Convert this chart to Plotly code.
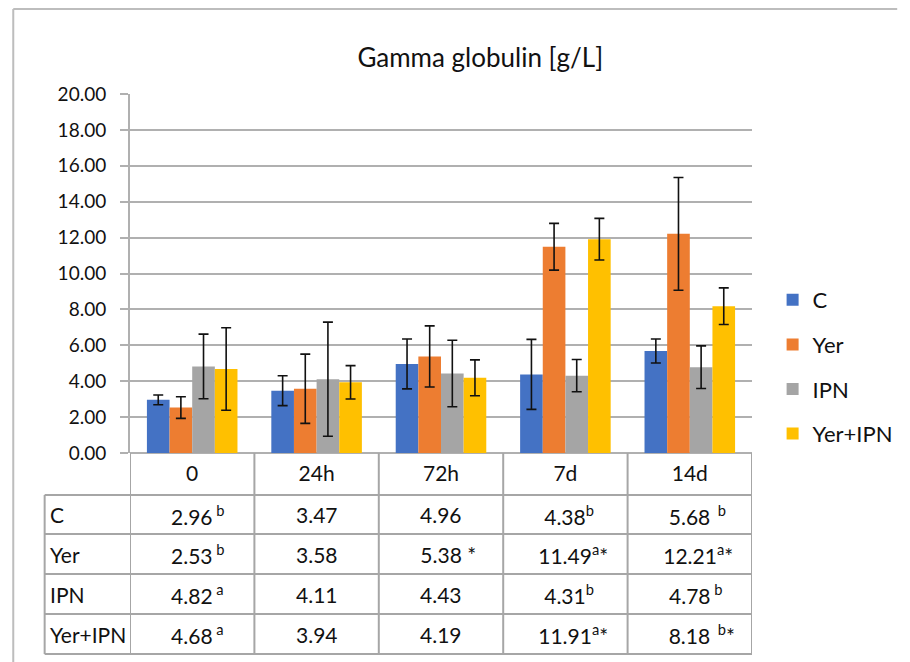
import plotly.graph_objects as go

# ---- data -------------------------------------------------------------
time_points = ["0", "24h", "72h", "7d", "14d"]
series_names = ["C", "Yer", "IPN", "Yer+IPN"]

c_vals = [2.96, 3.47, 4.96, 4.38, 5.68]
yer_vals = [2.53, 3.58, 5.38, 11.49, 12.21]
ipn_vals = [4.82, 4.11, 4.43, 4.31, 4.78]
yeripn_vals = [4.68, 3.94, 4.19, 11.91, 8.18]

c_err = [0.27, 0.83, 1.39, 1.95, 0.67]
yer_err = [0.60, 1.93, 1.70, 1.30, 3.14]
ipn_err = [1.80, 3.18, 1.85, 0.90, 1.19]
yeripn_err = [2.30, 0.93, 1.00, 1.16, 1.02]

# significance letters (between groups) and stars (vs. time 0) in the table
c_letters = ["\u00a0b", "", "", "b", "\u00a0\u00a0b"]
yer_letters = ["\u00a0b", "", "", "a", "a"]
ipn_letters = ["\u00a0a", "", "", "b", "\u00a0b"]
yeripn_letters = ["\u00a0a", "", "", "a", "\u00a0\u00a0b"]

c_star = [False, False, False, False, False]
yer_star = [False, False, True, True, True]
ipn_star = [False, False, False, False, False]
yeripn_star = [False, False, False, True, True]

y_ticks = [0, 2, 4, 6, 8, 10, 12, 14, 16, 18, 20]

colors = ["#4472C4", "#ED7D31", "#A5A5A5", "#FFC000"]

values = [c_vals, yer_vals, ipn_vals, yeripn_vals]
errors = [c_err, yer_err, ipn_err, yeripn_err]
letters = [c_letters, yer_letters, ipn_letters, yeripn_letters]
stars = [c_star, yer_star, ipn_star, yeripn_star]

# ---- geometry ---------------------------------------------------------
W, H = 910, 662
PL, PR, PT, PB = 130, 764, 94, 453  # plot area in pixels

FONT = "Lato, 'Open Sans', sans-serif"
TXT = "#111111"
GRID = "#b0b0b0"
TABLE = "#a6a6a6"


def fx(px):
    return (px - PL) / (PR - PL)


def fy(py):
    return (PB - py) / (PB - PT)


def cell_text(v, letter, star):
    """Value with its marks; the marks are mirrored invisibly on the left
    so the number itself stays centred in the cell."""
    marks = ""
    if letter:
        marks += f"<sup>{letter}</sup>"
    if star:
        if not letter:
            marks += "\u00a0"
        marks += "*"
    if not marks:
        return f"{v:.2f}"
    pad = f"<span style='color:rgba(0,0,0,0)'>{marks}</span>"
    return f"{pad}{v:.2f}{marks}"


fig = go.Figure()
for name, vals, errs, col in zip(series_names, values, errors, colors):
    fig.add_trace(go.Bar(
        name=name, x=time_points, y=vals, marker=dict(color=col, line=dict(width=0)),
        error_y=dict(type="data", array=errs, visible=True, color="#111111",
                     thickness=1.6, width=5),
        legendgroup=name,
    ))

shapes = []
# vertical separators between time points, running down through the table
for i in range(len(time_points) + 1):
    shapes.append(dict(type="line", xref="x", yref="paper",
                       x0=i - 0.5, x1=i - 0.5, y0=0, y1=fy(654),
                       line=dict(color=TABLE, width=2)))
# table row lines
row_lines = [495, 534, 574, 614, 654]
for r in row_lines:
    shapes.append(dict(type="line", xref="paper", yref="paper",
                       x0=fx(43), x1=1, y0=fy(r), y1=fy(r),
                       line=dict(color=TABLE, width=2)))
shapes.append(dict(type="line", xref="paper", yref="paper",
                   x0=fx(43), x1=fx(43), y0=fy(495), y1=fy(654),
                   line=dict(color=TABLE, width=2)))
# outer chart frame (top and left edges)
shapes.append(dict(type="line", xref="paper", yref="paper",
                   x0=fx(11), x1=fx(912), y0=fy(9), y1=fy(9),
                   line=dict(color="#bdbdbd", width=2)))
shapes.append(dict(type="line", xref="paper", yref="paper",
                   x0=fx(11), x1=fx(11), y0=fy(9), y1=fy(664),
                   line=dict(color="#bdbdbd", width=2)))

annotations = []
row_centers = [514.5, 554, 594, 634]
for name, vals, lt, st, yc in zip(series_names, values, letters, stars, row_centers):
    annotations.append(dict(xref="paper", yref="paper", x=fx(46), y=fy(yc),
                            xanchor="left", yanchor="middle", showarrow=False,
                            text=name, font=dict(family=FONT, size=21, color=TXT)))
    for i, (v, l, s) in enumerate(zip(vals, lt, st)):
        annotations.append(dict(xref="x", yref="paper", x=i, y=fy(yc),
                                xanchor="center", yanchor="middle", showarrow=False,
                                text=cell_text(v, l, s),
                                font=dict(family=FONT, size=21, color=TXT)))

fig.update_layout(
    width=W, height=H,
    margin=dict(l=PL, r=W - PR, t=PT, b=H - PB),
    paper_bgcolor="white", plot_bgcolor="white",
    barmode="group", bargap=0.272, bargroupgap=0,
    title=dict(text="Gamma globulin [g/L]", xref="paper", x=fx(487), xanchor="center",
               yref="container", y=1 - 58 / H, yanchor="middle",
               font=dict(family=FONT, size=26, color=TXT)),
    font=dict(family=FONT, color=TXT),
    showlegend=True,
    legend=dict(x=fx(785), xanchor="left", y=fy(279), yanchor="top",
                font=dict(family=FONT, size=22, color=TXT),
                traceorder="grouped", tracegroupgap=13,
                bgcolor="rgba(0,0,0,0)", borderwidth=0),
    xaxis=dict(type="category", categoryorder="array", categoryarray=time_points,
               range=[-0.5, len(time_points) - 0.5],
               showgrid=False, zeroline=False, showline=False, ticks="",
               tickfont=dict(family=FONT, size=21, color=TXT), ticklabelstandoff=6),
    yaxis=dict(range=[0, 20], tickvals=y_ticks, tickformat=".2f",
               showgrid=True, gridcolor=GRID, gridwidth=2,
               zeroline=True, zerolinecolor=GRID, zerolinewidth=2,
               showline=True, linecolor=GRID, linewidth=2,
               ticks="outside", ticklen=8, tickcolor=GRID, tickwidth=2,
               tickfont=dict(family=FONT, size=19, color=TXT), ticklabelstandoff=10),
    shapes=shapes, annotations=annotations,
)

fig.write_html("out.html")
